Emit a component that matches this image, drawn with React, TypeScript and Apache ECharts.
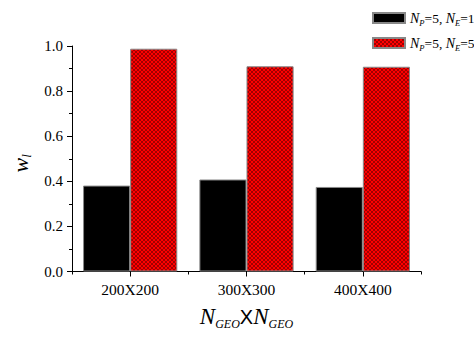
import React, { useEffect, useRef } from "react";
import * as echarts from "echarts";

const categories = ["200X200", "300X300", "400X400"];
const seriesNE1 = [0.381, 0.408, 0.375];
const seriesNE5 = [0.988, 0.91, 0.908];
const legendNames = ["NE1", "NE5"];
const yTicks = [0, 0.2, 0.4, 0.6, 0.8, 1.0];

const SERIF = "Liberation Serif, Times New Roman, serif";

function makePattern(): HTMLCanvasElement {
  const c = document.createElement("canvas");
  c.width = 4;
  c.height = 4;
  const ctx = c.getContext("2d")!;
  ctx.fillStyle = "#ff0000";
  ctx.fillRect(0, 0, 4, 4);
  ctx.fillStyle = "#a00000";
  const px = [
    [0, 0], [1, 1], [2, 2], [3, 3],
    [0, 3], [1, 2], [2, 1], [3, 0],
  ];
  px.forEach(([x, y]) => ctx.fillRect(x, y, 1, 1));
  return c;
}

export default function App() {
  const ref = useRef<HTMLDivElement>(null);
  useEffect(() => {
    if (!ref.current) return;
    const chart = echarts.init(ref.current, undefined, { renderer: "svg" });
    const pattern = { image: makePattern(), repeat: "repeat" } as any;
    const legendRich = {
      n: { fontFamily: SERIF, fontStyle: "italic", fontSize: 14, color: "#000" },
      s: { fontFamily: SERIF, fontStyle: "italic", fontSize: 8.5, color: "#000", padding: [9, 0, 0, 0] },
      t: { fontFamily: SERIF, fontSize: 13.5, color: "#000" },
    };
    chart.setOption({
      animation: false,
      backgroundColor: "#fff",
      grid: { left: 72, right: 53, top: 46, bottom: 65.5, containLabel: false },
      legend: {
        orient: "vertical",
        left: 372,
        top: 11,
        padding: 0,
        itemWidth: 32,
        itemHeight: 10,
        itemGap: 9,
        icon: "rect",
        data: legendNames,
        formatter: (name: string) =>
          name === "NE1"
            ? "{n|N}{s|P}{t|=5, }{n|N}{s|E}{t|=1}"
            : "{n|N}{s|P}{t|=5, }{n|N}{s|E}{t|=5}",
        textStyle: { rich: legendRich },
      },
      xAxis: [
        {
          type: "category",
          data: categories,
          position: "bottom",
          name: "{n|N}{s|GEO}{x|X}{n|N}{s|GEO}",
          nameLocation: "middle",
          nameGap: 32,
          nameTextStyle: {
            rich: {
              n: { fontFamily: SERIF, fontStyle: "italic", fontSize: 23, color: "#000" },
              s: { fontFamily: SERIF, fontStyle: "italic", fontSize: 12, color: "#000", padding: [14, 0, 0, 0] },
              x: { fontFamily: "Liberation Sans, Arial, sans-serif", fontSize: 20, color: "#000" },
            },
          },
          axisLine: { show: true, lineStyle: { color: "#000", width: 1 } },
          axisTick: { show: true, alignWithLabel: true, inside: false, length: 5, lineStyle: { color: "#000" } },
          axisLabel: { fontFamily: SERIF, fontSize: 15.5, color: "#000", margin: 10 },
          splitLine: { show: false },
        },
        {
          type: "category",
          data: categories,
          position: "bottom",
          axisLine: { show: false },
          axisTick: { show: true, alignWithLabel: false, inside: false, length: 3, lineStyle: { color: "#000" } },
          axisLabel: { show: false },
          splitLine: { show: false },
        },
      ],
      yAxis: {
        type: "value",
        min: 0,
        max: 1,
        interval: 0.2,
        name: "{w|w}{s|l}",
        nameLocation: "middle",
        nameGap: 38,
        nameRotate: 90,
        nameTextStyle: {
          padding: [0, 9, 0, 0],
          rich: {
            w: { fontFamily: SERIF, fontStyle: "italic", fontSize: 22, color: "#000" },
            s: { fontFamily: SERIF, fontStyle: "italic", fontSize: 13, color: "#000", padding: [12, 0, 0, 0] },
          },
        },
        axisLine: { show: true, lineStyle: { color: "#000", width: 1 } },
        axisTick: { show: true, inside: false, length: 5, lineStyle: { color: "#000" } },
        minorTick: { show: true, splitNumber: 2, length: 3, lineStyle: { color: "#000" } },
        axisLabel: {
          fontFamily: SERIF,
          fontSize: 15,
          color: "#000",
          margin: 9,
          formatter: (v: number) => (yTicks.some((t) => Math.abs(t - v) < 1e-9) ? v.toFixed(1) : ""),
        },
        splitLine: { show: false },
      },
      series: [
        {
          name: legendNames[0],
          type: "bar",
          data: seriesNE1,
          barGap: "0%",
          barCategoryGap: "19%",
          itemStyle: { color: "#000", borderColor: "#888", borderWidth: 1 },
        },
        {
          name: legendNames[1],
          type: "bar",
          data: seriesNE5,
          barGap: "0%",
          barCategoryGap: "19%",
          itemStyle: { color: pattern, borderColor: "#888", borderWidth: 1 },
        },
      ],
    });
    return () => chart.dispose();
  }, []);
  return <div ref={ref} style={{ width: 474, height: 337, position: "absolute", left: 0, top: 0 }} />;
}
